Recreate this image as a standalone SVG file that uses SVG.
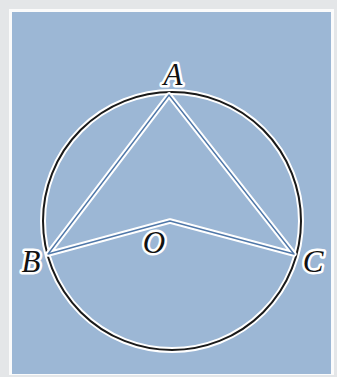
<svg xmlns="http://www.w3.org/2000/svg" width="337" height="377" viewBox="0 0 337 377">
<style>
.halo{fill:none;stroke:#ffffff;stroke-width:5.5;stroke-linejoin:round;stroke-linecap:round}
.seg{fill:none;stroke:#4f77a8;stroke-width:1.4;stroke-linejoin:round;stroke-linecap:round}
.circ{fill:none;stroke:#1a1a1a;stroke-width:2}
.lbl{font-family:"Liberation Serif",serif;font-style:italic;font-size:31px;fill:#111;stroke:#ffffff;stroke-width:5;paint-order:stroke;stroke-linejoin:round;text-anchor:middle}
</style>
<rect x="0" y="0" width="337" height="377" fill="#e4e6e8"/>
<rect x="9" y="9" width="325" height="366" fill="#fbfbfb"/>
<rect x="12" y="12" width="319" height="362" fill="#9cb7d5"/>
<g id="circle">
<circle cx="172" cy="221" r="129" fill="none" stroke="#ffffff" stroke-width="6"/>
<circle cx="172" cy="221" r="129" class="circ"/>
</g>
<g id="connectors">
<path class="halo" d="M169,95 L48,254 L170,221 L294,254 Z"/>
<path class="seg" d="M169,95 L48,254 L170,221 L294,254 Z"/>
</g>
<g id="A"><text class="lbl" x="173" y="85">A</text></g>
<g id="B"><text class="lbl" x="31" y="272">B</text></g>
<g id="O"><text class="lbl" x="154" y="253">O</text></g>
<g id="C"><text class="lbl" x="313" y="272">C</text></g>
</svg>
